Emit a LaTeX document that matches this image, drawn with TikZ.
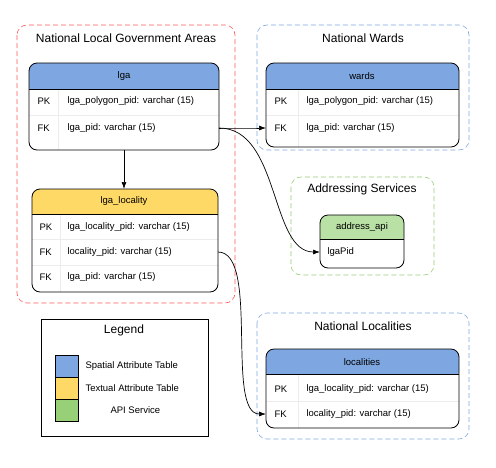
\documentclass[tikz,border=0pt]{standalone}
\usepackage{fontspec}
\setmainfont{Liberation Sans}
\usetikzlibrary{arrows.meta}
\definecolor{hblue}{HTML}{7EA6E0}
\definecolor{hyel}{HTML}{FFD966}
\definecolor{hgreen}{HTML}{B9E0A5}
\definecolor{lgreen}{HTML}{97D077}
\begin{document}
\begin{tikzpicture}[x=1pt,y=-1pt,
 clus/.style={dashed,rounded corners=10pt,line width=0.6pt,dash pattern=on 5pt off 3pt},
 ttl/.style={font=\fontsize{12}{13}\selectfont},
 row/.style={font=\fontsize{9.5}{11}\selectfont,anchor=west},
 hd/.style={font=\fontsize{9.5}{11}\selectfont},
 arr/.style={-{Latex[length=7pt,width=5pt]},line width=0.7pt}]
\useasboundingbox (0,0) rectangle (496,467);
% clusters
\draw[clus,red!65] (17,25) rectangle (235,303);
\node[ttl] (t1) at (126,38) {National Local Government Areas};
\draw[clus,hblue] (257,25) rectangle (469,150);
\node[ttl] (t2) at (363,38) {National Wards};
\draw[clus,lgreen] (291,177) rectangle (434,275);
\node[ttl] (t3) at (362,189) {Addressing Services};
\draw[clus,hblue] (257,313) rectangle (469,439);
\node[ttl] (t4) at (363,326) {National Localities};
% lga
\fill[hblue,rounded corners=8pt] (29,63) rectangle (219,95); \fill[white] (29,89) rectangle (219,96);
\draw[gray!15] (29,115)--(219,115); \draw[gray!15] (58,89)--(58,150);
\draw[rounded corners=8pt,line width=0.8pt] (29,63) rectangle (219,150);
\draw[line width=0.6pt] (29,89)--(219,89);
\node[hd] (lga) at (124,76) {lga};
\coordinate (lgaB) at (124,150);
\node[row] (l1) at (34,101) {PK};\node[row] at (64,101) {lga\_polygon\_pid: varchar (15)};
\node[row] (l2) at (34,128) {FK};\node[row] at (64,128) {lga\_pid: varchar (15)};
\coordinate (lgaR) at (219,128);
% lga_locality
\fill[hyel,rounded corners=8pt] (32,189) rectangle (218,220); \fill[white] (32,214) rectangle (218,221);
\draw[gray!15] (32,239)--(218,239); \draw[gray!15] (32,265)--(218,265); \draw[gray!15] (60,214)--(60,292);
\draw[rounded corners=8pt,line width=0.8pt] (32,189) rectangle (218,292);
\draw[line width=0.6pt] (32,214)--(218,214);
\node[hd] (ll) at (124,201) {lga\_locality};
\coordinate (llT) at (124,189);
\node[row] at (36,227) {PK};\node[row] at (64,227) {lga\_locality\_pid: varchar (15)};
\node[row] at (36,252) {FK};\node[row] at (64,252) {locality\_pid: varchar (15)};
\node[row] at (36,277) {FK};\node[row] at (64,277) {lga\_pid: varchar (15)};
\coordinate (llR) at (218,252);
% wards
\fill[hblue,rounded corners=8pt] (266,63) rectangle (459,95); \fill[white] (266,89) rectangle (459,96);
\draw[gray!15] (266,115)--(459,115); \draw[gray!15] (298,89)--(298,147);
\draw[rounded corners=8pt,line width=0.8pt] (266,63) rectangle (459,147);
\draw[line width=0.6pt] (266,89)--(459,89);
\node[hd] (w) at (362,76) {wards};
\node[row] at (271,101) {PK};\node[row] at (303,101) {lga\_polygon\_pid: varchar (15)};
\node[row] at (271,128) {FK};\node[row] at (303,128) {lga\_pid: varchar (15)};
\coordinate (wL) at (266,128);
% address_api
\fill[hgreen,rounded corners=8pt] (320,215) rectangle (404,245); \fill[white] (320,239) rectangle (404,246);
\draw[rounded corners=8pt,line width=0.8pt] (320,215) rectangle (404,268);
\draw[line width=0.6pt] (320,239)--(404,239);
\node[hd] (api) at (362,227) {address\_api};
\node[row] at (324,252) {lgaPid};
\coordinate (aL) at (320,252);
% localities
\fill[hblue,rounded corners=8pt] (266,349) rectangle (459,380); \fill[white] (266,374) rectangle (459,381);
\draw[gray!15] (266,401)--(459,401); \draw[gray!15] (298,374)--(298,428);
\draw[rounded corners=8pt,line width=0.8pt] (266,349) rectangle (459,428);
\draw[line width=0.6pt] (266,374)--(459,374);
\node[hd] (loc) at (362,362) {localities};
\node[row] at (271,389) {PK};\node[row] at (303,389) {lga\_locality\_pid: varchar (15)};
\node[row] at (271,414) {FK};\node[row] at (303,414) {locality\_pid: varchar (15)};
\coordinate (locL) at (266,414);
% legend
\draw[line width=0.7pt] (41,319) rectangle (208,436);
\node[ttl] (lg) at (124,330) {Legend};
\draw[fill=hblue] (55,355) rectangle (78,377);
\draw[fill=hyel] (55,377) rectangle (78,399);
\draw[fill=lgreen] (55,399) rectangle (78,421);
\node[row] (g1) at (82,366) {Spatial Attribute Table};
\node[row] (g2) at (82,388) {Textual Attribute Table};
\node[row] (g3) at (107,410) {API Service};
% arrows
\draw[arr] (lgaB) -- (llT);
\draw[arr] (lgaR) .. controls (240,128) and (245,128) .. (wL);
\draw[arr] (lgaR) .. controls (280,128) and (270,252) .. (aL);
\draw[arr] (llR) .. controls (260,252) and (225,414) .. (locL);
\end{tikzpicture}
\end{document}
